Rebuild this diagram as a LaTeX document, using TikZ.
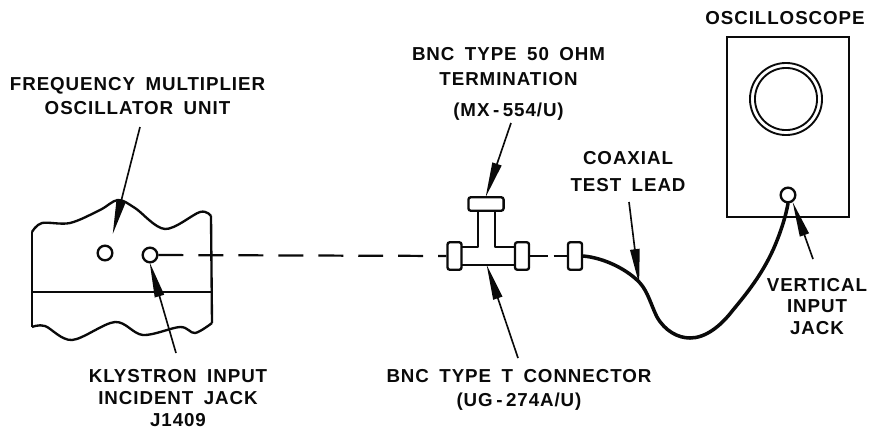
\documentclass[tikz,border=0pt]{standalone}
\usepackage{fontspec}
\usepackage{tikz}
\usetikzlibrary{
    arrows.meta
}
\newfontfamily\labelfont[LetterSpace=5, WordSpace=1.7]{Liberation Sans Bold}
\definecolor{Ink}{RGB}{10, 10, 10}
\newcommand{\wdash}{\kern3pt-\kern3pt}
\tikzset{
    blabel/.style={
        align=center, text=Ink, inner sep=0pt,
        font=\fontsize{16}{18.7}\selectfont\labelfont
    },
    bwire/.style={draw=Ink, line width=2pt, line join=round},
    bjack/.style={circle, draw=Ink, line width=2pt, fill=white, minimum size=12.5pt, inner sep=0pt},
    bflange/.style={
        rectangle, rounded corners=2pt, draw=Ink, line width=2pt,
        fill=white, minimum width=12pt, minimum height=23.5pt, inner sep=0pt
    },
    bcap/.style={
        rectangle, rounded corners=2pt, draw=Ink, line width=2pt,
        fill=white, minimum width=30pt, minimum height=11.5pt, inner sep=0pt
    },
    bdash/.style={draw=Ink, line width=1.9pt, dash pattern=on 21.3pt off 12.8pt},
    bcoax/.style={draw=Ink, line width=3pt, line cap=round},
    barr/.style={-{Triangle[length=30pt, width=8pt]}, draw=Ink, fill=Ink, line width=1.4pt, shorten >=-1pt},
}

\begin{document}
\begin{tikzpicture}[x=0.03cm, y=-0.03cm]

    \useasboundingbox (0,0) rectangle (869,436);

    % multiplier unit
    \draw [bwire] plot [smooth, tension=0.55] coordinates {(32,232) (42,223) (70,223) (100,210) (118,200) (135,208) (165,229) (200,212) (211,216)};
    \draw [bwire] plot [smooth, tension=0.55] coordinates {(212,323) (195,333) (180,327) (143,335) (115,322) (72,340) (45,326) (32,327)};
    \draw [bwire] (32,232) -- (32,327);
    \draw [bwire] (211,216) -- (212,323);
    \draw [bwire] (32,292) -- (211,292);

    \node [bjack] (plainjack) at (105,253) {};
    \node [bjack] (inputjack) at (150,255) {};

    % tee connector
    \draw [bwire] (462,247) -| (478,211) -- (495,211) |- (515,247);
    \draw [bwire] (462,265) -- (515,265);
    \node [bflange] (teeleft) at (454.5,256) {};
    \node [bflange] (teeright) at (522,256) {};
    \node [bcap] (teecap) at (486,204) {};
    \node [bflange] (leadplug) at (575,256) {};

    % oscilloscope
    \node [rectangle, draw=Ink, line width=2pt, minimum width=104pt, minimum height=153.5pt, inner sep=0pt] (scope) at (788,127) {};
    \node [circle, draw=Ink, line width=1.6pt, minimum size=61.5pt, inner sep=0pt] (screen) at (786,99) {};
    \node [circle, draw=Ink, line width=1.6pt, minimum size=53pt, inner sep=0pt] (tube) at (786,99) {};
    \node [bjack] (vertjack) at (788,195) {};

    \draw [bdash] (inputjack) -- (teeleft);
    \draw [bdash, dash pattern=on 15pt off 5pt] (teeright) -- (leadplug);
    \draw [bcoax] (leadplug.east) .. controls (605,258) and (628,270) .. (640,283)
        .. controls (648,292) and (651,305) .. (657,317)
        .. controls (665,331) and (678,338) .. (690,338)
        .. controls (705,338) and (720,327) .. (733,310)
        .. controls (748,292) and (762,274) .. (773,250)
        .. controls (781,232) and (786,215) .. (vertjack.south);

    % labels
    \node [blabel] (unitlabel) at (137.5,96) {FREQUENCY MULTIPLIER \\[2pt] OSCILLATOR UNIT};
    \node [blabel] (termlabel) at (508.5,84) {BNC TYPE 50 OHM \\[2.5pt] TERMINATION \\[8.5pt] (MX\wdash 554/U)};
    \node [blabel] (leadlabel) at (628,171.5) {COAXIAL \\[4pt] TEST LEAD};
    \node [blabel] (scopelabel) at (785,18) {OSCILLOSCOPE};
    \node [blabel] (vertlabel) at (817,306.5) {VERTICAL \\ INPUT \\ JACK};
    \node [blabel] (jacklabel) at (178,398) {KLYSTRON INPUT \\ INCIDENT JACK \\ J1409};
    \node [blabel] (teelabel) at (519,390) {BNC TYPE T CONNECTOR \\[2pt] (UG\wdash 274A/U)};

    % leaders
    \coordinate (unittail) at (140,127);
    \coordinate (unittip) at (113,233);
    \coordinate (termtail) at (511,123);
    \coordinate (jacktail) at (176,353);
    \coordinate (teetail) at (518,358);
    \coordinate (teetip) at (487,266);
    \coordinate (leadtail) at (629,202);
    \coordinate (leadtip) at (639,283);
    \coordinate (verttail) at (813,259);
    \coordinate (verttip) at (793,203);

    \draw [barr] (unittail) -- (unittip);
    \draw [barr] (termtail) -- (teecap.north);
    \draw [barr] (jacktail) -- (inputjack.south);
    \draw [barr] (teetail) -- (teetip);
    \draw [barr] (leadtail) -- (leadtip);
    \draw [barr] (verttail) -- (verttip);

\end{tikzpicture}
\end{document}
